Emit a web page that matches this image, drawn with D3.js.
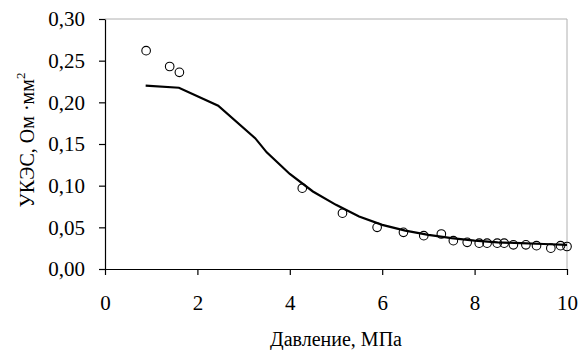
<!DOCTYPE html>
<html>
<head>
<meta charset="utf-8">
<script src="https://cdn.jsdelivr.net/npm/d3@7"></script>
<style>
  body { margin: 0; background: #fff; }
  svg text { font-family: "Liberation Serif", "Times New Roman", Times, "DejaVu Serif", serif; }
</style>
</head>
<body>
<svg width="582" height="350"></svg>
<script>
// measured points (pressure, MPa -> UKES, Ohm*mm^2)
const pointX = [0.89, 1.40, 1.61, 4.27, 5.14, 5.89, 6.46, 6.90, 7.28, 7.54, 7.84, 8.10, 8.27, 8.49, 8.64, 8.84, 9.11, 9.34, 9.65, 9.86, 10.0];
const pointY = [0.262, 0.243, 0.236, 0.097, 0.067, 0.050, 0.044, 0.040, 0.042, 0.034, 0.032, 0.031, 0.031, 0.031, 0.031, 0.029, 0.029, 0.028, 0.025, 0.028, 0.027];
// model curve
const curveX = [0.88, 1.6, 2.45, 3.25, 3.5, 4.0, 4.5, 5.0, 5.5, 6.0, 6.5, 7.0, 7.5, 8.0, 8.5, 9.0, 9.5, 10.0];
const curveY = [0.220, 0.2175, 0.196, 0.157, 0.140, 0.114, 0.093, 0.077, 0.063, 0.053, 0.046, 0.041, 0.037, 0.034, 0.032, 0.031, 0.030, 0.029];
const xTicks = [0, 2, 4, 6, 8, 10];
const yTicks = [0, 0.05, 0.10, 0.15, 0.20, 0.25, 0.30];

const svg = d3.select('svg');
const L = 105, R = 567, T = 19, B = 269;
const x = d3.scaleLinear().domain([0, 10]).range([L, R]);
const y = d3.scaleLinear().domain([0, 0.30]).range([B, T]);
const fmt = v => d3.format('.2f')(v).replace('.', ',');

// plot frame (top/right light gray)
svg.append('line').attr('x1', L).attr('x2', R).attr('y1', T).attr('y2', T).attr('stroke', '#b0b0b0');
svg.append('line').attr('x1', R).attr('x2', R).attr('y1', T).attr('y2', B).attr('stroke', '#b0b0b0');

const xAxis = svg.append('g').attr('transform', `translate(0,${B})`)
  .call(d3.axisBottom(x).tickValues(xTicks).tickSize(6).tickPadding(20).tickSizeOuter(0));
const yAxis = svg.append('g').attr('transform', `translate(${L},0)`)
  .call(d3.axisLeft(y).tickValues(yTicks).tickFormat(fmt).tickSize(6).tickPadding(14).tickSizeOuter(0));
[xAxis, yAxis].forEach(g => {
  g.attr('font-family', null).attr('font-size', null);
  g.selectAll('path, line').attr('stroke', '#000').attr('stroke-width', 1.2);
  g.selectAll('text').attr('font-size', 21).attr('fill', '#000');
});

// curve
svg.append('path')
  .datum(curveX.map((v, i) => [v, curveY[i]]))
  .attr('d', d3.line().x(d => x(d[0])).y(d => y(d[1])))
  .attr('fill', 'none').attr('stroke', '#000').attr('stroke-width', 2.2);

// points
svg.selectAll('circle.pt').data(pointX.map((v, i) => [v, pointY[i]])).enter()
  .append('circle').attr('class', 'pt')
  .attr('cx', d => x(d[0])).attr('cy', d => y(d[1])).attr('r', 4.3)
  .attr('fill', 'none').attr('stroke', '#000').attr('stroke-width', 1.1);

// axis titles
svg.append('text').attr('x', (L + R) / 2).attr('y', 346).attr('text-anchor', 'middle')
  .attr('font-size', 20).text('Давление, МПа');
const yt = svg.append('text').attr('transform', 'translate(34,140) rotate(-90)')
  .attr('text-anchor', 'middle').attr('font-size', 20);
yt.append('tspan').text('УКЭС, Ом ·мм');
yt.append('tspan').attr('dy', -9).attr('font-size', 13).text('2');
</script>
</body>
</html>
